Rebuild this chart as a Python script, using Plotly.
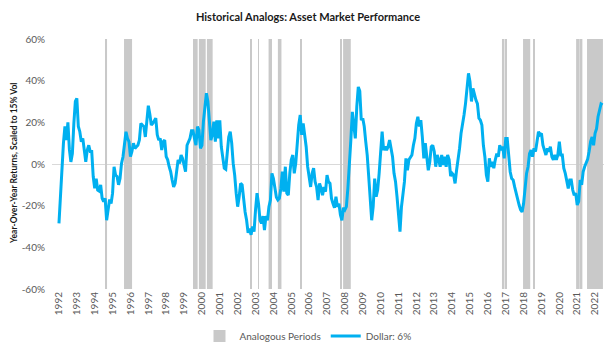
import plotly.graph_objects as go

# ---------------- data ----------------
years = list(range(1992, 2023))
year_labels = [str(y) for y in years]

y_ticks = [-60, -40, -20, 0, 20, 40, 60]
y_tick_labels = [f"{v}%" for v in y_ticks]

# analogous periods (decimal years)
period_start = [1994.63, 1995.64, 1999.50, 1999.83, 2000.28, 2002.69, 2003.14, 2003.73,
                2004.25, 2005.49, 2007.78, 2007.90, 2016.79, 2016.99, 2017.97, 2018.56,
                2020.94, 2021.21, 2021.55]
period_end = [1994.69, 1996.09, 1999.76, 2000.21, 2000.60, 2002.76, 2003.19, 2003.92,
              2004.45, 2005.59, 2007.84, 2008.33, 2016.93, 2017.06, 2018.37, 2018.62,
              2021.14, 2021.29, 2022.44]

# Dollar YoY return scaled to 15% vol, monthly from Jan 1992 (percent)
dollar = [
    -28.5, -14, -3, 10, 18, 11.5, 20, 7, 1, 5,
    19.5, 30, 31.5, 18, 15.5, 10.7, 12.3, 7.5, 1, 6.7,
    9, 6, 6, -6, -11.7, -7, -12.5, -13, -10, -16.5,
    -18, -16.5, -27, -22, -17, -19, -14, -1.3, -5.3, -6,
    -10, -7, 0.3, 3.5, 11.5, 15.5, 12.3, 10.7, 3.5, 6,
    10, 7.5, 8.3, 9, 11.5, 19.5, 18.7, 18, 13, 20,
    28, 24, 18.7, 19.5, 21, 22, 14, 11.5, 12.3, 6.7,
    10.7, 11.5, 3.5,
    2, -1.3, -3.7, -7.7, -11, -9.3, -3, 2, 0.3, 4.3,
    2.7, -0.5, -3.7, 9, 10.7, 12.3, 16, 16, 12.3, 9,
    18, 16.3, 7.5, 9, 20.3, 26.7, 34, 30, 18, 11.5,
    14, 20.3, 10.7, 21, 12.3, 21, 8.3, 3.5, -2, -2.5,
    7.5, 13, 15.5, 10, 0.3, -5.3, -14, -20.5, -15.7, -9.3,
    -10, -17.3, -23, -27, -33, -31, -34, -30, -32.5, -22,
    -14, -19, -27, -28.5, -25, -31.7, -25, -27, -20.5, -17.3,
    -4.5, -7, -12.5, -16,
    -17.3, -16.5, -11.7, -3.7, -13.3, -1.3, -14, -15, -4.5, 2,
    4.3, -4.5, 0.3, 10.7, 18.7, 23.5, 14, 19.5, 14, 8.3,
    -1.3, -7, -11, -4.5, -2, -8.5, -11, -17.3, -9.3, -11.7,
    -15, -11, -13.3, -5.3, -8.5, -9.3, -16.5, -19, -21, -15.7,
    -20.5, -19, -24.5, -27, -21, -22, -20.5, -11.7, -1.3, 11.5,
    25, 17, 12.3, 27.5, 37, 35, 21, 22, 18, 10.7,
    4.3, -6, -19, -27, -20.5, -7, -15.7, -12.5, -4.5, 6.7,
    15.5, 6.7, 8.3, 6.7,
    8.3, 11.5, 7.5, 3.5, -4.5, -8.5, -15.7, -24.5, -32.5, -20.5,
    -15.7, -8.5, 2.7, -3, 2, 3.5, 4.3, 9, 12.3, 19.5,
    22.7, 18, 21, 13, 2.7, 10, 2, -3, 1, 8.3,
    9, 6, -1.3, 4.3, 2, -1.3, 4.3, -0.5, 3.5, -1.3,
    4.3, 2, -5.8, -4.5, -5.3, -9.3, -3, 2, 7.5, 14.7,
    18.7, 23.5, 29, 35.5, 43.5, 39.5, 30, 36.3, 33, 30.7,
    29, 22, 21, 18.7, 9, 3.5, -5.3, -8.5, 2.7, -1.3,
    1, -2, 2, 5,
    3.5, 9, 6.7, 8.3, 2.7, 12.3, 12.3, 3.5, -3.7, -7,
    -7.7, -11, -14, -18, -19.7, -22, -23, -19, -10, -4.5,
    -1.3, 5, 6.7, 3.5, 7.5, 6, 10.7, 15.5, 14, 14.7,
    9, 6.7, 4.3, 7.5, 6, 8.3, 3.5, 2, 4.3, 2,
    4.3, 10.7, 4.3, 4.3, -2, -4.5, -9.3, -11.7, -7.7, -7.7,
    -12.5, -15, -14, -19.7, -18, -7.7, -10, -3.7, -1.3, 0.3,
    2.2, 6, 10.7, 13, 9, 14.7, 17, 22.7, 26, 28.8, 28.3,
]
start_year = 1992

# ---------------- figure ----------------
months = [start_year + i / 12 for i in range(len(dollar))]
y_min, y_max = y_ticks[0], y_ticks[-1]
centers = [(s + e) / 2 for s, e in zip(period_start, period_end)]
widths = [e - s for s, e in zip(period_start, period_end)]

FONT = "Lato"
GREY_TXT = "#595959"
PLOT_L, PLOT_W = 52, 552

fig = go.Figure()
fig.add_trace(go.Bar(
    x=centers, y=[y_max - y_min] * len(centers), base=y_min, width=widths,
    marker=dict(color="#c9c9c9", line=dict(width=0)),
    name="Analogous Periods", hoverinfo="skip",
))
fig.add_trace(go.Scatter(
    x=months, y=dollar, mode="lines",
    line=dict(color="#00b0f0", width=3),
    name="Dollar: 6%",
))

fig.add_annotation(
    text="<b>Year-Over-Year Returns, Scaled to 15% Vol</b>",
    xref="paper", yref="paper", x=(14 - PLOT_L) / PLOT_W, y=0.5,
    xanchor="center", yanchor="middle", textangle=-90, showarrow=False,
    font=dict(family=FONT, size=8.5, color="#1a1a1a"),
)

fig.update_layout(
    width=616, height=351,
    margin=dict(l=PLOT_L, r=12, t=39, b=62, autoexpand=False),
    paper_bgcolor="white", plot_bgcolor="white",
    font=dict(family=FONT, size=10, color=GREY_TXT),
    title=dict(text="<b>Historical Analogs: Asset Market Performance</b>",
               x=0.5, xref="container", xanchor="center",
               y=1 - 17 / 351, yref="container", yanchor="middle",
               font=dict(family=FONT, size=11, color="#1a1a1a")),
    showlegend=True,
    legend=dict(orientation="h", x=0.5, xref="container", xanchor="center",
                y=1 - 336 / 351, yref="container", yanchor="middle",
                font=dict(family=FONT, size=10, color=GREY_TXT),
                itemwidth=30, traceorder="normal"),
    xaxis=dict(range=[1991.61, 2022.50], tickmode="array", tickvals=years,
               ticktext=year_labels, tickangle=-90, showgrid=False, zeroline=False,
               showline=False, ticks="", tickfont=dict(size=10, color=GREY_TXT)),
    yaxis=dict(range=[y_min, y_max], tickmode="array", tickvals=y_ticks,
               ticktext=y_tick_labels, showgrid=False, zeroline=True,
               zerolinecolor="#d9d9d9", zerolinewidth=1, showline=False, ticks="",
               ticklabelstandoff=6,
               tickfont=dict(size=10, color=GREY_TXT)),
)

fig.write_html("out.html")
